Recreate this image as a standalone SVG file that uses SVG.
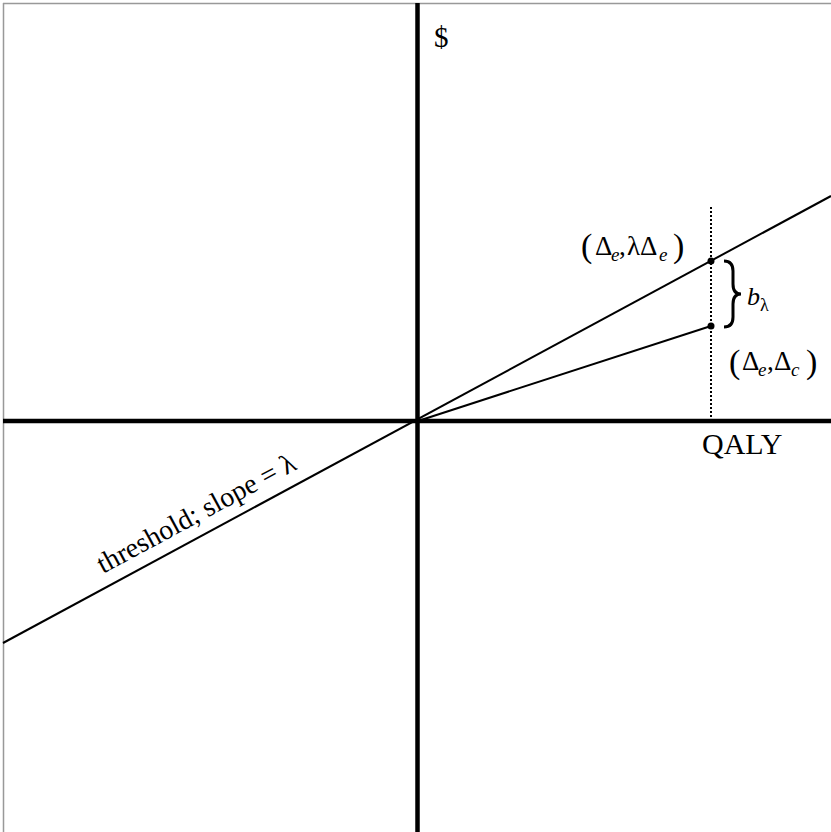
<svg xmlns="http://www.w3.org/2000/svg" width="831" height="832" viewBox="0 0 831 832">
<style>
text{font-family:"Liberation Serif","Times New Roman",serif;fill:#000}
.lbl{font-size:27px}
.sub{font-size:19px;font-style:italic}
.par{font-size:34px}
.ln{stroke:#000;stroke-width:2;fill:none}
.ax{stroke:#000;stroke-width:4.5;fill:none}
</style>
<rect width="831" height="832" fill="#fff"/>
<g id="frame" stroke="#999" stroke-width="1.5" fill="none">
<line x1="3" y1="3.5" x2="831" y2="3.5"/>
<line x1="3.5" y1="3" x2="3.5" y2="832"/>
</g>
<g id="connectors">
<line class="ax" x1="3" y1="421" x2="831" y2="421"/>
<line class="ax" x1="417.5" y1="3" x2="417.5" y2="832"/>
<line class="ln" x1="3" y1="643" x2="831" y2="196"/>
<line class="ln" x1="418" y1="421" x2="711" y2="326"/>
<line x1="711" y1="207" x2="711" y2="421" stroke="#000" stroke-width="2" stroke-dasharray="2,2"/>
<path d="M724,261 Q733,261 733,271 L733,284 Q733,294 741,294 Q733,294 733,304 L733,317 Q733,327 724,327" stroke="#000" stroke-width="3" fill="none"/>
<circle cx="711" cy="261" r="3.5" fill="#000"/>
<circle cx="711" cy="326" r="3.5" fill="#000"/>
</g>
<g id="label-dollar"><text x="434" y="47" font-size="29px">$</text></g>
<g id="label-qaly"><text x="702" y="454" font-size="30px">QALY</text></g>
<g id="label-threshold"><text transform="translate(103,574) rotate(-28.35)" font-size="28px">threshold; slope = λ</text></g>
<g id="label-point1">
<text class="par" x="581" y="257">(</text>
<text class="lbl" x="595" y="255">Δ</text>
<text class="sub" x="611" y="261">e</text>
<text class="lbl" x="619" y="255">,</text>
<text class="lbl" x="627" y="255">λΔ</text>
<text class="sub" x="659" y="261">e</text>
<text class="par" x="673" y="257">)</text>
</g>
<g id="label-point2">
<text class="par" x="729" y="373">(</text>
<text class="lbl" x="742" y="370">Δ</text>
<text class="sub" x="758" y="376">e</text>
<text class="lbl" x="767" y="370">,</text>
<text class="lbl" x="774" y="370">Δ</text>
<text class="sub" x="791" y="376">c</text>
<text class="par" x="806" y="373">)</text>
</g>
<g id="label-b">
<text x="747" y="305" font-size="26px" font-style="italic">b</text>
<text x="760" y="311" font-size="18px">λ</text>
</g>
</svg>
